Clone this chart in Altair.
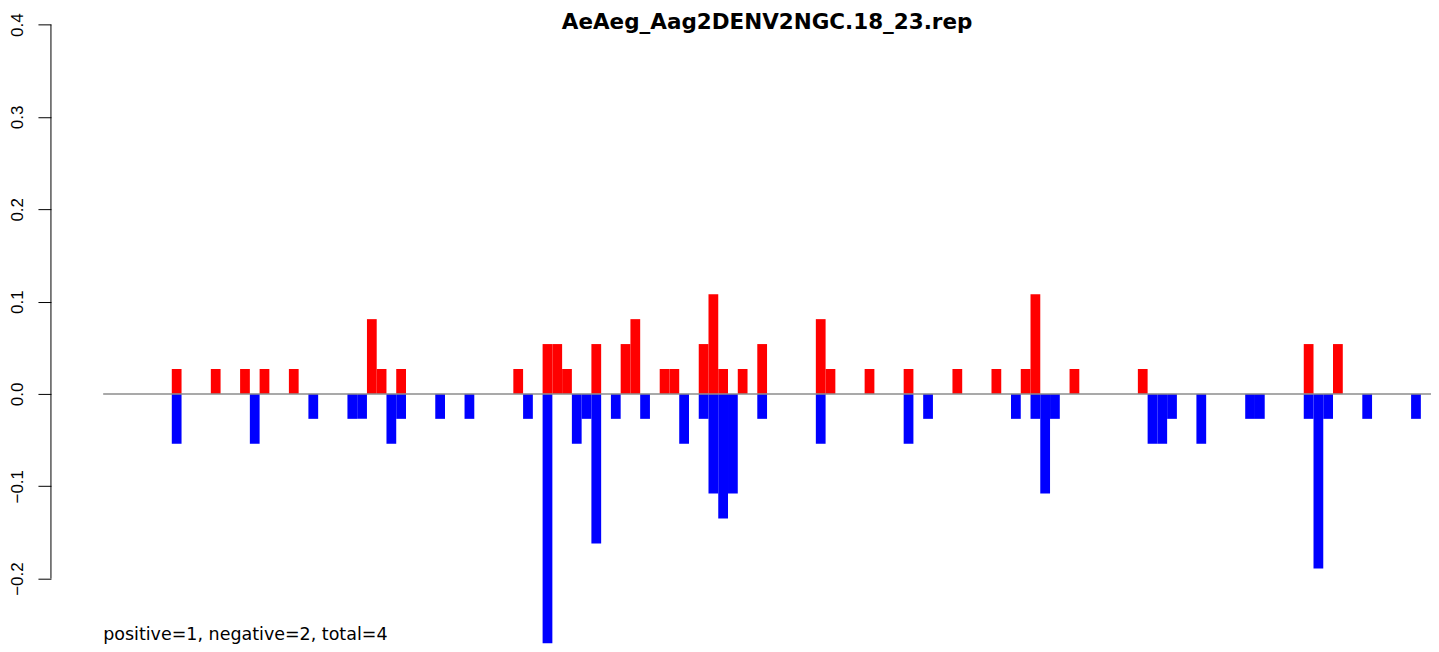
import altair as alt
import pandas as pd

title_text = "AeAeg_Aag2DENV2NGC.18_23.rep"
note_text = "positive=1, negative=2, total=4"

# position index of each bar and its value (positive series, red)
pos_idx = [0, 4, 7, 9, 12, 20, 21, 23, 35, 38, 39, 40, 43, 46, 47, 50, 51,
           54, 55, 56, 58, 60, 66, 67, 71, 75, 80, 84, 87, 88, 92, 99, 116, 119]
pos_val = [0.027, 0.027, 0.027, 0.027, 0.027, 0.081, 0.027, 0.027, 0.027,
           0.054, 0.054, 0.027, 0.054, 0.054, 0.081, 0.027, 0.027,
           0.054, 0.108, 0.027, 0.027, 0.054, 0.081, 0.027, 0.027, 0.027,
           0.027, 0.027, 0.027, 0.108, 0.027, 0.027, 0.054, 0.054]

# negative series, blue
neg_idx = [0, 8, 14, 18, 19, 22, 23, 27, 30, 36, 38, 41, 42, 43, 45, 48, 52,
           54, 55, 56, 57, 60, 66, 75, 77, 86, 88, 89, 90, 100, 101, 102, 105,
           110, 111, 116, 117, 118, 122, 127]
neg_val = [-0.054, -0.054, -0.027, -0.027, -0.027, -0.054, -0.027, -0.027,
           -0.027, -0.027, -0.270, -0.054, -0.027, -0.162, -0.027, -0.027,
           -0.054, -0.027, -0.108, -0.135, -0.108, -0.027, -0.054, -0.054,
           -0.027, -0.027, -0.027, -0.108, -0.027, -0.054, -0.054, -0.027,
           -0.054, -0.027, -0.027, -0.027, -0.189, -0.027, -0.027, -0.027]

y_ticks = [-0.2, -0.1, 0.0, 0.1, 0.2, 0.3, 0.4]

W = 1329.4
H = 636

xscale = alt.Scale(domain=[-7.03, 129.04], nice=False, zero=False)
yscale = alt.Scale(domain=[-0.2705, 0.41764], nice=False, zero=False)
yaxis = alt.Axis(values=y_ticks, format=".1f", domain=False, grid=False,
                 ticks=True, tickSize=13, tickColor="black", tickWidth=1,
                 labelAngle=270, labelAlign="center", labelBaseline="middle",
                 labelPadding=20, labelFont="Liberation Sans", labelFontSize=17,
                 labelColor="black", labelFlush=False, labelOverlap=False,
                 labelBound=False, offset=52.3, title=None)

pos_df = pd.DataFrame({"idx": pos_idx, "value": pos_val})
pos_df["idx_end"] = pos_df["idx"] + 1
pos_df["base"] = 0.0
neg_df = pd.DataFrame({"idx": neg_idx, "value": neg_val})
neg_df["idx_end"] = neg_df["idx"] + 1
neg_df["base"] = 0.0

bars_pos = alt.Chart(pos_df).mark_rect(color="#FF0000").encode(
    x=alt.X("idx:Q", scale=xscale, axis=None),
    x2="idx_end:Q",
    y=alt.Y("value:Q", scale=yscale, axis=yaxis),
    y2="base:Q",
)
bars_neg = alt.Chart(neg_df).mark_rect(color="#0000FF").encode(
    x=alt.X("idx:Q", scale=xscale, axis=None),
    x2="idx_end:Q",
    y=alt.Y("value:Q", scale=yscale, axis=yaxis),
    y2="base:Q",
)

one = pd.DataFrame({"v": [0]})
baseline = alt.Chart(one).mark_rule(color="#8c8c8c", strokeWidth=1.5).encode(
    y=alt.Y(datum=0, scale=yscale, axis=yaxis),
)
axis_line = alt.Chart(one).mark_rule(color="black", strokeWidth=1).encode(
    x=alt.value(-52.3),
    y=alt.Y(datum=-0.2, scale=yscale, axis=yaxis),
    y2=alt.datum(0.4),
)

title_mark = alt.Chart(pd.DataFrame({"t": [title_text]})).mark_text(
    font="DejaVu Sans", fontSize=21.5, fontWeight="bold", color="black",
    align="center", baseline="alphabetic",
).encode(text="t:N", x=alt.value(W / 2), y=alt.value(20.5))

note_mark = alt.Chart(pd.DataFrame({"t": [note_text]})).mark_text(
    font="DejaVu Sans", fontSize=17.5, color="black",
    align="left", baseline="alphabetic",
).encode(text="t:N", x=alt.value(0), y=alt.value(632))

chart = alt.layer(
    bars_pos, bars_neg, baseline, axis_line, title_mark, note_mark
).properties(
    width=W, height=H,
    background="white",
    autosize=alt.AutoSizeParams(type="none"),
    padding={"left": 95.3, "top": 0, "right": 0, "bottom": 0},
).configure_view(stroke=None, strokeWidth=0)

chart.save("out.html", embed_options={"renderer": "svg", "actions": False})
